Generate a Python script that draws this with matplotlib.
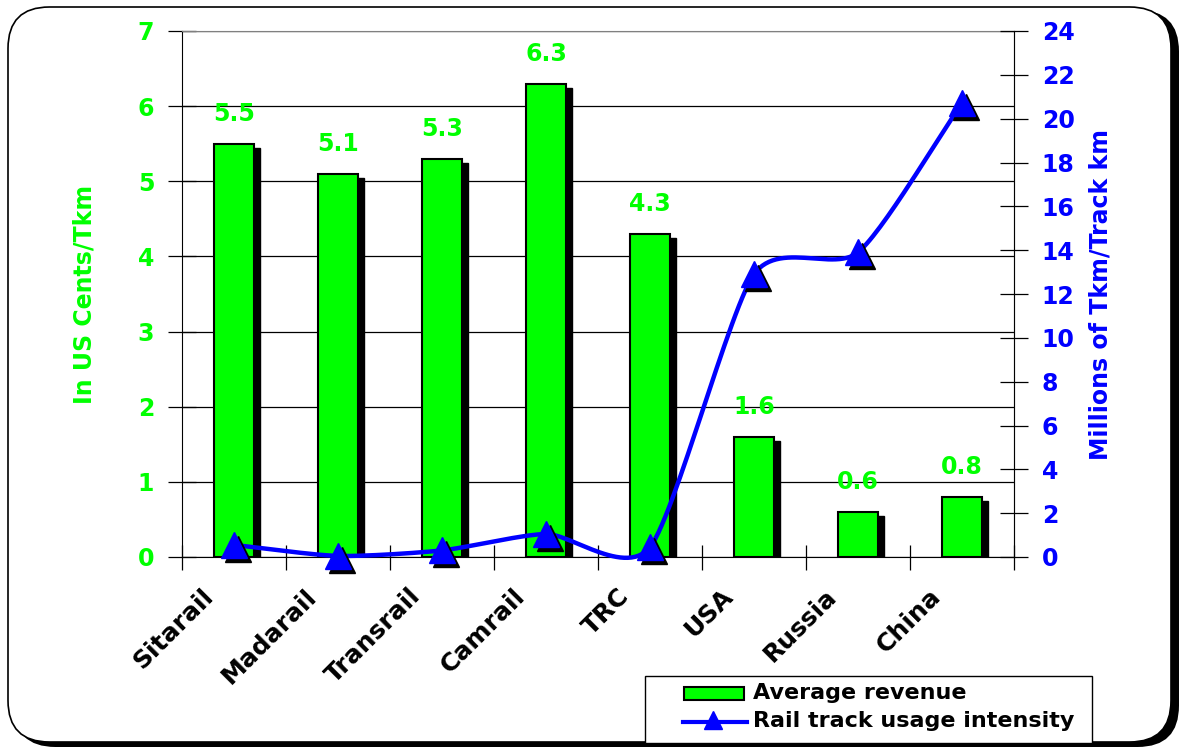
import numpy as np
import matplotlib
matplotlib.use("Agg")
import matplotlib.pyplot as plt
from matplotlib.patches import FancyBboxPatch, Rectangle
from matplotlib.lines import Line2D
import matplotlib.transforms as mtransforms

plt.rcParams['font.family'] = ['DejaVu Sans']
plt.rcParams['font.weight'] = 'bold'

categories = ["Sitarail", "Madarail", "Transrail", "Camrail", "TRC", "USA", "Russia", "China"]
avg_revenue = [5.5, 5.1, 5.3, 6.3, 4.3, 1.6, 0.6, 0.8]
usage_intensity = [0.55, 0.05, 0.3, 1.05, 0.45, 12.9, 13.9, 20.7]
left_ticks = list(range(0, 8))
right_ticks = list(range(0, 25, 2))
legend_labels = ["Average revenue", "Rail track usage intensity"]

GREEN = "#00FF00"
BLUE = "#0000FF"
FS = 17

W, H = 1185, 750
fig = plt.figure(figsize=(W / 100, H / 100), dpi=100)

def fx(px):
    return px / W

def fy(py):
    return 1 - py / H

# rounded border with shadow
shadow = FancyBboxPatch((14 / W, 3 / H), 1165 / W, 737 / H,
                        boxstyle="round,pad=0,rounding_size=0.035",
                        transform=fig.transFigure, facecolor="black",
                        edgecolor="black", lw=0, zorder=-5,
                        mutation_aspect=W / H)
fig.patches.append(shadow)
frame = FancyBboxPatch((8 / W, 8 / H), 1163 / W, 735 / H,
                       boxstyle="round,pad=0,rounding_size=0.035",
                       transform=fig.transFigure, facecolor="white",
                       edgecolor="black", lw=1.2, zorder=-4,
                       mutation_aspect=W / H)
fig.patches.append(frame)

ax = fig.add_axes([182 / W, 1 - 557 / H, 832 / W, 526 / H])
ax.set_facecolor("none")
x = np.arange(len(categories))
bw = 0.385

off = mtransforms.ScaledTranslation(6 / 100, -4 / 100, fig.dpi_scale_trans)
ax.bar(x, avg_revenue, width=bw, color="black", edgecolor="black",
       transform=ax.transData + off, zorder=2)
ax.bar(x, avg_revenue, width=bw, color=GREEN, edgecolor="black", lw=1.5, zorder=3)

for xi, v in zip(x, avg_revenue):
    ax.annotate(f"{v:.1f}", (xi, v), xytext=(0, 13), textcoords="offset points",
                ha="center", va="bottom", color=GREEN, fontsize=FS, fontweight="bold",
                zorder=6)

ax.set_xlim(-0.5, len(categories) - 0.5)
ax.set_ylim(0, 7)
ax.set_yticks(left_ticks)
ax.set_yticklabels([str(t) for t in left_ticks], color=GREEN, fontsize=FS, fontweight="bold")
ax.yaxis.grid(True, color="black", lw=0.9)
ax.set_axisbelow(True)
ax.set_xticks(np.arange(-0.5, len(categories), 1.0))
ax.set_xticklabels([])
ax.tick_params(axis="x", direction="inout", length=18, width=0.9)
ax.tick_params(axis="y", direction="inout", length=20, width=0.9, pad=10)
for s in ["top", "right"]:
    ax.spines[s].set_color("#808080")
ax.spines["left"].set_color("black")
ax.spines["bottom"].set_color("black")

for xi, c in zip(x, categories):
    ax.text(xi - 0.32, -0.36, c, rotation=45, ha="right", va="top",
            rotation_mode="anchor", fontsize=18, fontweight="bold", color="black",
            transform=ax.transData, clip_on=False)

ax.set_ylabel("In US Cents/Tkm", color=GREEN, fontsize=17, fontweight="bold", labelpad=30)

ax2 = ax.twinx()
ax2.set_ylim(0, 24)
ax2.set_yticks(right_ticks)
ax2.set_yticklabels([str(t) for t in right_ticks], color=BLUE, fontsize=FS, fontweight="bold")
ax2.tick_params(axis="y", direction="inout", length=20, width=0.9, pad=10)
for s in ["top", "left", "bottom"]:
    ax2.spines[s].set_visible(False)
ax2.spines["right"].set_color("black")
ax2.set_ylabel("Millions of Tkm/Track km", color=BLUE, fontsize=17, fontweight="bold", labelpad=10)

# smooth curve (Catmull-Rom) through data points
def catmull(xs, ys, n=30, k=0.7):
    px = np.concatenate([[2 * xs[0] - xs[1]], xs, [2 * xs[-1] - xs[-2]]])
    py = np.concatenate([[2 * ys[0] - ys[1]], ys, [2 * ys[-1] - ys[-2]]])
    outx, outy = [], []
    t = np.linspace(0, 1, n)
    for i in range(1, len(px) - 2):
        p0, p1, p2, p3 = [np.array([px[j], py[j]]) for j in range(i - 1, i + 3)]
        m1 = (p2 - p0) / 2 * k
        m2 = (p3 - p1) / 2 * k
        for tt in t:
            h00 = 2 * tt**3 - 3 * tt**2 + 1
            h10 = tt**3 - 2 * tt**2 + tt
            h01 = -2 * tt**3 + 3 * tt**2
            h11 = tt**3 - tt**2
            p = h00 * p1 + h10 * m1 + h01 * p2 + h11 * m2
            outx.append(p[0]); outy.append(p[1])
    return np.array(outx), np.array(outy)

sx, sy = catmull(x.astype(float), np.array(usage_intensity, dtype=float))
ax2.plot(sx, sy, color=BLUE, lw=3.2, zorder=4, clip_on=False)
off2 = mtransforms.ScaledTranslation(4 / 100, -4 / 100, fig.dpi_scale_trans)
ax2.plot(x, usage_intensity, ls="none", marker="^", ms=19, color="black",
         transform=ax2.transData + off2, zorder=4, clip_on=False)
ax2.plot(x, usage_intensity, ls="none", marker="^", ms=19, color=BLUE,
         markeredgecolor=BLUE, zorder=5, clip_on=False)

# legend (drawn in figure pixel positions)
fig.patches.append(Rectangle((fx(645), fy(743)), (1092 - 645) / W, (743 - 676) / H,
                             transform=fig.transFigure, facecolor="white",
                             edgecolor="black", lw=1.0, zorder=10))
fig.patches.append(Rectangle((fx(684), fy(700)), 60 / W, 13 / H,
                             transform=fig.transFigure, facecolor=GREEN,
                             edgecolor="black", lw=1.5, zorder=11))
fig.lines.append(Line2D([fx(683), fx(747)], [fy(722), fy(722)], color=BLUE, lw=3,
                        transform=fig.transFigure, zorder=11))
fig.lines.append(Line2D([fx(713)], [fy(720)], marker="^", ms=13, color=BLUE, ls="none",
                        transform=fig.transFigure, zorder=12))
fig.text(fx(753), fy(693), legend_labels[0], fontsize=16, fontweight="bold",
         va="center", ha="left", zorder=12)
fig.text(fx(753), fy(721), legend_labels[1], fontsize=16, fontweight="bold",
         va="center", ha="left", zorder=12)

fig.savefig("out.png", dpi=100)
